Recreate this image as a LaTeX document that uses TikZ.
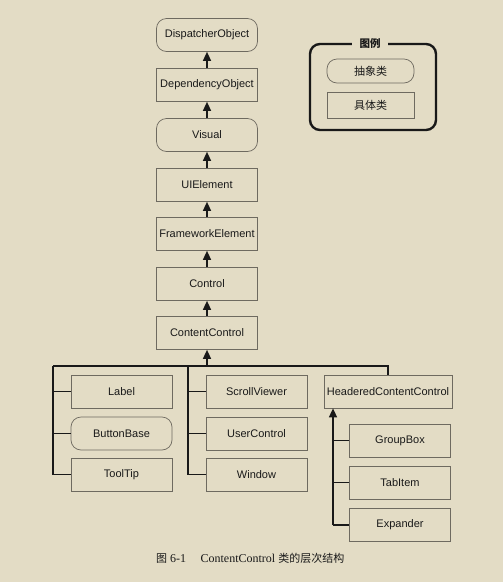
\documentclass[tikz,border=0pt]{standalone}
\usepackage{fontspec}
\setmainfont{Liberation Serif}
\setsansfont{Liberation Sans}
\newfontfamily\cjk{Noto Sans CJK SC}
\usetikzlibrary{arrows.meta}
\definecolor{bg}{RGB}{227,220,197}
\definecolor{boxline}{RGB}{110,106,96}
\definecolor{ink}{RGB}{25,25,25}
\tikzset{
  cls/.style={draw=boxline, line width=0.7pt, minimum width=101pt, minimum height=33pt,
    inner sep=0pt, font=\sffamily\fontsize{11}{13}\selectfont, text=ink},
  abs/.style={cls, rounded corners=10pt},
  conn/.style={draw=ink, line width=1.4pt},
  arr/.style={conn, -{Triangle[length=9pt,width=8pt]}},
}
\begin{document}
\begin{tikzpicture}[x=1pt,y=-1pt]
\path[fill=bg, use as bounding box] (0,0) rectangle (503,582);
% main column
\node[abs] (disp) at (207,35) {DispatcherObject};
\node[cls] (dep) at (207,85) {DependencyObject};
\node[abs] (vis) at (207,135) {Visual};
\node[cls] (uie) at (207,185) {UIElement};
\node[cls] (fwe) at (207,234) {FrameworkElement};
\node[cls] (ctl) at (207,284) {Control};
\node[cls] (cc) at (207,333) {ContentControl};
\draw[arr] (dep) -- (disp);
\draw[arr] (vis) -- (dep);
\draw[arr] (uie) -- (vis);
\draw[arr] (fwe) -- (uie);
\draw[arr] (ctl) -- (fwe);
\draw[arr] (cc) -- (ctl);
\draw[arr] (cc.south |- 0,366) coordinate (busmid) -- (cc);
% children
\node[cls] (lab) at (121.5,391.5) {Label};
\node[abs] (bb) at (121.5,433.5) {ButtonBase};
\node[cls] (tt) at (121.5,474.5) {ToolTip};
\node[cls] (sv) at (256.5,391.5) {ScrollViewer};
\node[cls] (uc) at (256.5,433.5) {UserControl};
\node[cls] (win) at (256.5,474.5) {Window};
\node[cls, minimum width=128pt] (hcc) at (388,391.5) {HeaderedContentControl};
\node[cls] (gb) at (400,440.5) {GroupBox};
\node[cls] (ti) at (400,482.5) {TabItem};
\node[cls] (exp) at (400,525) {Expander};
\coordinate (busl) at (53,366);
\coordinate (busm) at (188,366);
\draw[conn] (lab.west -| busl) -- (lab.west);
\draw[conn] (bb.west -| busl) -- (bb.west);
\draw[conn] (busl) |- (tt.west);
\draw[conn] (sv.west -| busm) -- (sv.west);
\draw[conn] (uc.west -| busm) -- (uc.west);
\draw[conn] (busm) |- (win.west);
\draw[conn] (busl) -| (hcc.north);
\coordinate (hb) at (333,525);
\draw[conn] (gb.west -| hb) -- (gb.west);
\draw[conn] (ti.west -| hb) -- (ti.west);
\draw[conn] (exp.west) -- (hb);
\draw[arr] (hb) -- (hb |- hcc.south);
% legend
\node[font=\cjk\bfseries\fontsize{10.5}{12}\selectfont, text=ink] (legt) at (370,44) {图例};
\draw[conn, line width=2.4pt, rounded corners=10pt] (legt.west) ++(-4,0) -- (310,44) -- (310,130) -- (436,130) -- (436,44) -- ([xshift=4pt]legt.east);
\node[abs, minimum width=87pt, minimum height=24pt, font=\cjk\fontsize{11}{13}\selectfont] (labs) at (370.5,71) {抽象类};
\node[cls, minimum width=87pt, minimum height=26pt, font=\cjk\fontsize{11}{13}\selectfont] (lcon) at (370.5,105) {具体类};
% caption
\node[anchor=west, text=ink, inner sep=0pt] (cap) at (156,558) {{\cjk\fontsize{11}{13}\selectfont 图}\fontsize{12}{14}\selectfont\ 6-1\hspace{1.2em}ContentControl {\cjk\fontsize{11}{13}\selectfont 类的层次结构}};
\end{tikzpicture}
\end{document}
